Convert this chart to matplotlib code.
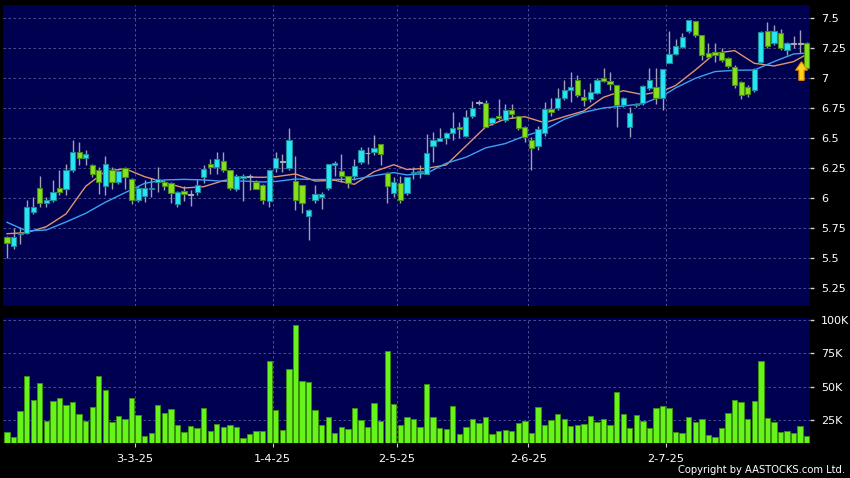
import matplotlib
matplotlib.use('Agg')
import matplotlib.pyplot as plt
import numpy as np
from matplotlib.patches import Polygon

# ---------------- data ----------------
opens = [5.675, 5.60, 5.70, 5.71, 5.885, 6.083, 5.958, 5.99, 6.083, 6.075,
         6.24, 6.383, 6.335, 6.28, 6.236, 6.10, 6.236, 6.14, 6.25, 6.16,
         5.99, 6.02, 6.08, 6.136, 6.139, 6.125, 5.95, 6.06, 6.03, 6.05,
         6.175, 6.29, 6.264, 6.31, 6.236, 6.075, 6.17, 6.18, 6.139, 6.11,
         5.978, 6.25, 6.305, 6.255, 6.147, 6.108, 5.856, 5.99, 6.008, 6.09,
         6.28, 6.23, 6.186, 6.186, 6.30, 6.375, 6.39, 6.45, 6.208, 6.047,
         6.125, 6.047, 6.21, 6.22, 6.203, 6.439, 6.48, 6.50, 6.547, 6.597,
         6.52, 6.686, 6.797, 6.797, 6.625, 6.69, 6.653, 6.74, 6.69, 6.597,
         6.486, 6.436, 6.542, 6.742, 6.75, 6.833, 6.903, 6.986, 6.847, 6.825,
         6.88, 7.0, 6.98, 6.944, 6.778, 6.592, 6.78, 6.797, 6.917, 6.93,
         6.833, 7.131, 7.203, 7.264, 7.397, 7.48, 7.361, 7.214, 7.222, 7.222,
         7.167, 7.097, 6.972, 6.925, 6.903, 7.139, 7.397, 7.292, 7.38, 7.236,
         7.29, 7.29, 7.297]
highs = [5.69, 5.75, 5.76, 5.99, 6.01, 6.19, 6.01, 6.15, 6.24, 6.29,
         6.49, 6.47, 6.40, 6.29, 6.26, 6.35, 6.26, 6.24, 6.26, 6.17,
         6.10, 6.15, 6.17, 6.26, 6.153, 6.139, 6.06, 6.10, 6.07, 6.16,
         6.28, 6.33, 6.39, 6.39, 6.24, 6.20, 6.20, 6.20, 6.15, 6.12,
         6.24, 6.39, 6.37, 6.59, 6.35, 6.11, 5.91, 6.11, 6.05, 6.29,
         6.31, 6.37, 6.19, 6.33, 6.43, 6.43, 6.53, 6.45, 6.22, 6.18,
         6.19, 6.18, 6.26, 6.28, 6.54, 6.556, 6.59, 6.55, 6.72, 6.64,
         6.736, 6.81, 6.82, 6.82, 6.68, 6.83, 6.79, 6.79, 6.69, 6.60,
         6.51, 6.60, 6.80, 6.833, 6.917, 6.986, 7.05, 7.028, 6.91, 6.958,
         7.0, 7.083, 7.05, 6.944, 6.847, 6.764, 6.797, 6.944, 7.083, 7.083,
         7.075, 7.397, 7.33, 7.375, 7.486, 7.48, 7.361, 7.292, 7.292, 7.25,
         7.18, 7.111, 6.98, 6.944, 7.083, 7.397, 7.47, 7.444, 7.41, 7.306,
         7.35, 7.40, 7.30]
lows = [5.50, 5.58, 5.62, 5.70, 5.87, 5.93, 5.93, 5.97, 6.03, 6.03,
        6.22, 6.28, 6.28, 6.18, 6.04, 6.03, 6.08, 6.12, 6.08, 5.95,
        5.97, 5.97, 6.01, 6.05, 6.07, 5.96, 5.93, 5.975, 5.94, 6.03,
        6.13, 6.20, 6.20, 6.22, 6.07, 6.06, 5.98, 6.07, 6.075, 5.95,
        5.93, 6.22, 6.22, 6.24, 5.90, 5.875, 5.65, 5.96, 5.91, 6.07,
        6.19, 6.14, 6.09, 6.15, 6.29, 6.29, 6.36, 6.28, 5.96, 6.01,
        5.96, 6.03, 6.16, 6.17, 6.20, 6.306, 6.48, 6.45, 6.49, 6.50,
        6.51, 6.667, 6.78, 6.597, 6.61, 6.65, 6.64, 6.667, 6.57, 6.47,
        6.24, 6.40, 6.52, 6.69, 6.736, 6.82, 6.80, 6.847, 6.767, 6.806,
        6.87, 6.97, 6.90, 6.597, 6.764, 6.51, 6.764, 6.78, 6.90, 6.786,
        6.736, 7.125, 7.194, 7.25, 7.375, 7.347, 7.153, 7.167, 7.139, 7.139,
        7.083, 6.917, 6.825, 6.847, 6.889, 7.125, 7.25, 7.278, 7.236, 7.194,
        7.25, 7.208, 7.08]
closes = [5.625, 5.675, 5.715, 5.925, 5.925, 5.958, 5.985, 6.05, 6.05, 6.24,
          6.383, 6.34, 6.37, 6.20, 6.14, 6.29, 6.139, 6.23, 6.175, 5.99,
          6.09, 6.09, 6.09, 6.158, 6.103, 6.047, 6.05, 6.04, 6.03, 6.11,
          6.244, 6.26, 6.33, 6.236, 6.089, 6.186, 6.186, 6.18, 6.075, 5.986,
          6.236, 6.34, 6.305, 6.49, 5.986, 5.958, 5.903, 6.04, 6.04, 6.283,
          6.295, 6.186, 6.125, 6.272, 6.40, 6.375, 6.42, 6.37, 6.103, 6.14,
          5.99, 6.175, 6.215, 6.225, 6.375, 6.486, 6.50, 6.547, 6.59, 6.575,
          6.675, 6.75, 6.797, 6.597, 6.667, 6.667, 6.736, 6.70, 6.59, 6.514,
          6.417, 6.58, 6.742, 6.72, 6.839, 6.903, 6.93, 6.861, 6.82, 6.889,
          6.99, 6.978, 6.953, 6.778, 6.833, 6.714, 6.785, 6.939, 6.986, 6.833,
          7.075, 7.203, 7.27, 7.342, 7.486, 7.361, 7.194, 7.175, 7.194, 7.153,
          7.103, 6.944, 6.861, 6.869, 7.075, 7.389, 7.269, 7.397, 7.25, 7.292,
          7.29, 7.29, 7.083]
volume_k = [16.25, 12.5, 31.75, 58.25, 40, 53, 24.5, 39.25, 41.25, 36,
            38.75, 29.5, 24, 34.5, 57.75, 47.5, 23.25, 28, 26, 41.25,
            28.75, 13.25, 15, 36, 30, 33.25, 21, 16, 20.5, 19,
            33.75, 17, 21.75, 20, 21, 19.5, 11.5, 14.5, 16.5, 17,
            69.5, 32.5, 17.5, 63, 96.25, 54.5, 53.25, 32.5, 21.25, 27,
            15, 19.5, 18.5, 34, 24.75, 20, 37.75, 24.25, 76.5, 36.75,
            21, 27.5, 25.75, 19.75, 52, 27, 19, 18.25, 35.25, 14.75,
            19.5, 26, 22.75, 27, 14.75, 16.75, 17.5, 16.75, 22.5, 24,
            15.25, 34.5, 21.5, 24.75, 29.25, 25.75, 20.75, 21.25, 21.75, 27.75,
            23.75, 25.5, 21.5, 46, 29.75, 19, 28.75, 24.25, 19, 34.25,
            35.25, 34, 16, 15, 27.25, 23.75, 25.75, 13.5, 12.25, 19.25,
            30, 39.75, 38.5, 26, 39.5, 69, 26.5, 23.75, 16, 17,
            15.5, 20.75, 13]

# moving averages at selected bars
ma_idx = [0, 3, 6, 9, 12, 15, 18, 21, 24, 27, 30, 33, 36, 39, 41, 44, 47, 50,
          53, 56, 59, 61, 64, 67, 70, 73, 76, 79, 82, 85, 88, 91, 94, 97, 100,
          102, 105, 108, 111, 114, 117, 120, 122]
ma_short = [5.705, 5.714, 5.764, 5.87, 6.10, 6.225, 6.247, 6.18, 6.133, 6.086,
            6.097, 6.147, 6.178, 6.175, 6.18, 6.203, 6.144, 6.15, 6.117, 6.222,
            6.28, 6.24, 6.25, 6.278, 6.436, 6.594, 6.661, 6.68, 6.63, 6.68,
            6.728, 6.842, 6.897, 6.864, 6.894, 6.94, 7.069, 7.208, 7.231, 7.125,
            7.103, 7.139, 7.20]
ma_long = [5.80, 5.728, 5.736, 5.803, 5.875, 5.967, 6.047, 6.125, 6.153, 6.158,
           6.153, 6.142, 6.144, 6.136, 6.14, 6.161, 6.156, 6.158, 6.158, 6.189,
           6.214, 6.195, 6.208, 6.292, 6.342, 6.42, 6.456, 6.52, 6.57, 6.658,
           6.717, 6.753, 6.769, 6.789, 6.853, 6.92, 7.0, 7.056, 7.067, 7.069,
           7.139, 7.203, 7.21]

month_start_idx = [20, 41, 60, 80, 101]
month_labels = ['3-3-25', '1-4-25', '2-5-25', '2-6-25', '2-7-25']
price_ticks = [5.25, 5.5, 5.75, 6.0, 6.25, 6.5, 6.75, 7.0, 7.25, 7.5]
price_tick_labels = ['5.25', '5.5', '5.75', '6', '6.25', '6.5', '6.75', '7', '7.25', '7.5']
vol_ticks = [25, 50, 75, 100]
vol_tick_labels = ['25K', '50K', '75K', '100K']

# ---------------- styling ----------------
BG = '#000050'
GRID = '#5a5a98'
CYAN = '#26e6f4'
CYAN_EDGE = '#1c8c9c'
GREEN = '#84e21e'
GREEN_EDGE = '#4a8c14'
DOJI = '#a8a8b8'
WICK = '#a0a0b4'
VOL = '#66f41a'
VOL_EDGE = '#3a8e10'
MA_S = '#e0946c'
MA_L = '#3aa2f0'

plt.rcParams['font.family'] = ['DejaVu Sans']

W, H = 850, 478
def rect(l, t, r, b):
    return [l / W, 1 - b / H, (r - l) / W, (b - t) / H]

fig = plt.figure(figsize=(W / 100, H / 100), dpi=100, facecolor='black')
ax = fig.add_axes(rect(3.3, 5, 810, 306))
axv = fig.add_axes(rect(3.3, 318, 810, 443.3), sharex=ax)

o = np.array(opens); c = np.array(closes)
h = np.array(highs); l = np.array(lows)
n = len(o)
idx = np.arange(n)

up = c > o
down = c < o
body_bot = np.minimum(o, c)
body_h = np.maximum(np.abs(c - o), 0.006)
face = np.where(up, CYAN, np.where(down, GREEN, DOJI))
edge = np.where(up, CYAN_EDGE, np.where(down, GREEN_EDGE, DOJI))

ax.vlines(idx, l, h, color=WICK, lw=1.0, zorder=2)
ax.plot(ma_idx, ma_short, color=MA_S, lw=1.0, zorder=3)
ax.plot(ma_idx, ma_long, color=MA_L, lw=1.0, zorder=3)
ax.bar(idx, body_h, bottom=body_bot, width=0.8, color=face, edgecolor=edge,
       linewidth=0.8, zorder=4)

# yellow marker arrow at the latest close
xc = idx[-1] - 0.8
tip = c[-1] + 0.055
shaft_bot = tip - 0.155
arrow = Polygon([[xc, tip], [xc + 0.9, tip - 0.07], [xc + 0.4, tip - 0.07],
                 [xc + 0.4, shaft_bot], [xc - 0.4, shaft_bot],
                 [xc - 0.4, tip - 0.07], [xc - 0.9, tip - 0.07]],
                closed=True, facecolor='#ffd21a', edgecolor='#e08800',
                lw=0.8, zorder=6)
ax.add_patch(arrow)

axv.bar(idx, volume_k, width=0.82, color=VOL, edgecolor=VOL_EDGE, linewidth=0.7,
        zorder=3)

grid_x = [m - 0.5 for m in month_start_idx]
for a in (ax, axv):
    a.set_facecolor(BG)
    for s in a.spines.values():
        s.set_visible(False)
    a.yaxis.tick_right()
    a.set_xticks(grid_x)
    a.grid(True, color=GRID, lw=0.6, ls=(0, (3, 3)), zorder=1)
    a.set_axisbelow(True)
    a.tick_params(axis='y', colors='#d0d0d0', labelcolor='white', length=3,
                  width=1, pad=5, labelsize=8)

ax.set_xlim(-0.57, 122.5)
ax.set_ylim(5.1025, 7.611)
ax.set_yticks(price_ticks)
ax.set_yticklabels(price_tick_labels)
ax.tick_params(axis='x', bottom=False, labelbottom=False)

axv.set_ylim(7.5, 101.5)
axv.set_yticks(vol_ticks)
axv.set_yticklabels(vol_tick_labels)
axv.set_xticklabels(month_labels)
axv.tick_params(axis='x', colors='#d0d0d0', labelcolor='white', length=3,
                pad=5, labelsize=8.2)

fig.text(845 / W, 1 - 473 / H, 'Copyright by AASTOCKS.com Ltd.', ha='right',
         va='baseline', color='white', fontsize=7.2)

fig.savefig('out.png', dpi=100, facecolor='black')
